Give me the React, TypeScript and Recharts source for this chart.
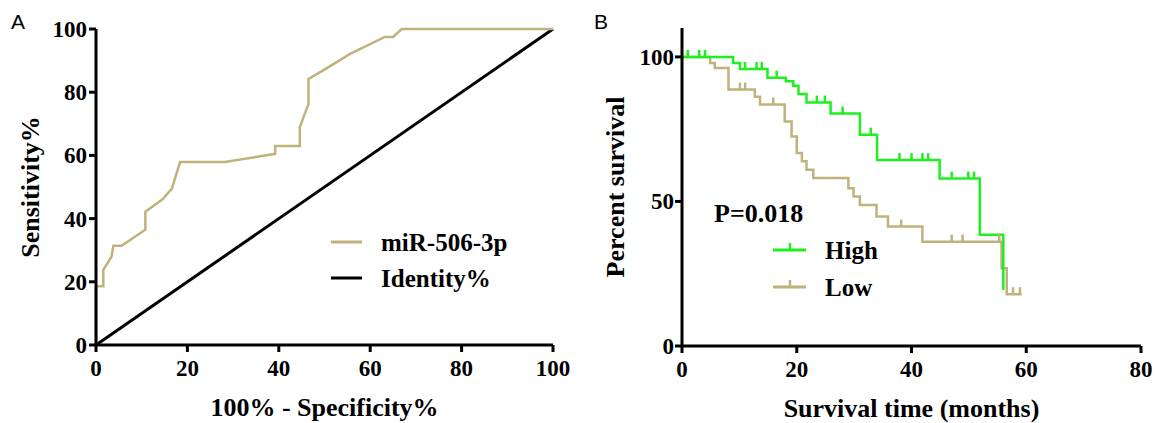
import { ComposedChart, LineChart, Line, Scatter, XAxis, YAxis } from "recharts";

const SERIF = '"Liberation Serif", "Times New Roman", serif';
const SANS = '"Liberation Sans", Arial, sans-serif';
const TAN = "#c0b27c";
const GREEN = "#1ef01e";

// Panel A: ROC curve of miR-506-3p
const rocFpr = [0, 0, 1.6, 1.6, 3.4, 3.8, 5.6, 10.8, 10.8, 14.5, 16.6, 18.4, 28.2, 39.2, 39.2, 44.6, 44.6, 46.5, 46.5, 49.7, 55.6, 63.2, 65, 66.9, 100];
const rocTpr = [0, 18.6, 18.6, 23.8, 28, 31.4, 31.4, 36.5, 42.2, 46, 49.5, 57.9, 57.9, 60.5, 63, 63, 69, 76.3, 84.2, 86.9, 92.1, 97.5, 97.5, 100, 100];
const identityX = [0, 100];
const identityY = [0, 100];
const rocTicks = [0, 20, 40, 60, 80, 100];

// Panel B: Kaplan-Meier survival, high vs low expression
const highT = [0, 8.9, 10.1, 14.9, 18.1, 19.4, 20.3, 21.7, 25.9, 31.0, 34.0, 44.9, 51.9, 56.0];
const highS = [100, 97.9, 95.8, 92.8, 91.6, 90.0, 87.2, 84.2, 80.4, 73.1, 64.3, 57.9, 38.5, 19.4];
const highCensorT = [1, 3, 4, 11, 13, 13.9, 16.5, 23.5, 24.9, 28, 32.9, 37.9, 40, 41.9, 42.9, 47, 49.9, 50.9];
const highCensorS = [100, 100, 100, 95.8, 95.8, 95.8, 92.8, 84.2, 84.2, 80.4, 73.1, 64.3, 64.3, 64.3, 64.3, 57.9, 57.9, 57.9];

const lowT = [0, 4.9, 5.7, 8.1, 12.7, 13.6, 17.9, 19.1, 20.0, 20.9, 21.7, 22.9, 29.0, 29.9, 31.0, 33.9, 35.9, 41.9, 55.7, 56.6, 59.2];
const lowS = [100, 97.9, 96.2, 88.7, 86.2, 83.5, 77.7, 72.5, 66.8, 63.9, 61.0, 58.1, 54.6, 51.7, 48.8, 44.8, 41.3, 36.1, 26.9, 17.9, 17.9];
const lowCensorT = [10.1, 11, 15.9, 38.2, 47, 48.9, 55.3, 57.7, 58.9];
const lowCensorS = [88.7, 88.7, 83.5, 41.3, 36.1, 36.1, 36.1, 17.9, 17.9];

const survXTicks = [0, 20, 40, 60, 80];
const survYTicks = [0, 50, 100];

const zip = (xs: number[], ys: number[], kx: string, ky: string) =>
  xs.map((v, i) => ({ [kx]: v, [ky]: ys[i] }));

const rocData = zip(rocFpr, rocTpr, "x", "y");
const identityData = zip(identityX, identityY, "x", "y");
const highData = zip(highT, highS, "t", "s");
const lowData = zip(lowT, lowS, "t", "s");
const highCensor = zip(highCensorT, highCensorS, "t", "s");
const lowCensor = zip(lowCensorT, lowCensorS, "t", "s");

const titleStyle = { fontFamily: SERIF, fontWeight: 700, fontSize: 26, fill: "#000", textAnchor: "middle" as const };
const tickFont = { fontFamily: SERIF, fontWeight: 700, fontSize: 23, fill: "#000" };
const axisStroke = { stroke: "#000", strokeWidth: 3 };

// bold serif tick labels (inline style so nothing overrides it)
const xTick = (props: any) => (
  <text x={props.x} y={props.y} dy={16} textAnchor="middle" style={tickFont}>
    {props.payload.value}
  </text>
);
const yTick = (props: any) => (
  <text x={props.x} y={props.y} dy={8} textAnchor="end" style={tickFont}>
    {props.payload.value}
  </text>
);

const censorMark = (color: string) => (props: any) => (
  <line x1={props.cx} x2={props.cx} y1={props.cy} y2={props.cy - 7} stroke={color} strokeWidth={2.5} />
);

const legendText = { fontFamily: SERIF, fontWeight: 700, fontSize: 25, fill: "#000" };

export default function App() {
  return (
    <div style={{ position: "absolute", left: 0, top: 0, width: 1158, height: 423, background: "#fff" }}>
      {/* A: ROC */}
      <div style={{ position: "absolute", left: 0, top: 0 }}>
        <LineChart width={580} height={423} margin={{ top: 29, right: 27, bottom: 3, left: 0 }}>
          <XAxis
            type="number"
            dataKey="x"
            domain={[0, 100]}
            ticks={rocTicks}
            interval={0}
            height={75}
            tickSize={7}
            tickMargin={8}
            axisLine={axisStroke}
            tickLine={axisStroke}
            tick={xTick}
            label={{ value: "100% - Specificity%", position: "insideBottom", offset: 4, style: titleStyle }}
          />
          <YAxis
            type="number"
            domain={[0, 100]}
            ticks={rocTicks}
            interval={0}
            width={96}
            tickSize={7}
            tickMargin={2}
            axisLine={axisStroke}
            tickLine={axisStroke}
            tick={yTick}
            label={{ value: "Sensitivity%", angle: -90, position: "insideLeft", offset: 30, style: titleStyle }}
          />
          <Line data={identityData} dataKey="y" type="linear" stroke="#000" strokeWidth={3} dot={false} activeDot={false} isAnimationActive={false} />
          <Line data={rocData} dataKey="y" type="linear" stroke={TAN} strokeWidth={2.5} dot={false} activeDot={false} isAnimationActive={false} />
        </LineChart>
      </div>

      {/* B: survival */}
      <div style={{ position: "absolute", left: 590, top: 0 }}>
        <ComposedChart width={568} height={423} margin={{ top: 28, right: 17, bottom: 2, left: 0 }}>
          <XAxis
            type="number"
            dataKey="t"
            domain={[0, 80]}
            ticks={survXTicks}
            interval={0}
            height={75}
            tickSize={7}
            tickMargin={8}
            axisLine={axisStroke}
            tickLine={axisStroke}
            tick={xTick}
            label={{ value: "Survival time (months)", position: "insideBottom", offset: 4, style: titleStyle }}
          />
          <YAxis
            type="number"
            domain={[0, 110]}
            ticks={survYTicks}
            interval={0}
            width={92}
            tickSize={7}
            tickMargin={1}
            axisLine={axisStroke}
            tickLine={axisStroke}
            tick={yTick}
            label={{ value: "Percent survival", angle: -90, position: "insideLeft", offset: 25, style: titleStyle }}
          />
          <Line data={lowData} dataKey="s" type="stepAfter" stroke={TAN} strokeWidth={2.5} dot={false} activeDot={false} isAnimationActive={false} />
          <Line data={highData} dataKey="s" type="stepAfter" stroke={GREEN} strokeWidth={2.5} dot={false} activeDot={false} isAnimationActive={false} />
          <Scatter data={lowCensor} dataKey="s" shape={censorMark(TAN)} isAnimationActive={false} />
          <Scatter data={highCensor} dataKey="s" shape={censorMark(GREEN)} isAnimationActive={false} />
        </ComposedChart>
      </div>

      {/* panel letters, legends, p value */}
      <svg width={1158} height={423} style={{ position: "absolute", left: 0, top: 0, pointerEvents: "none" }}>
        <text x={11} y={29} style={{ fontFamily: SANS, fontSize: 21, fill: "#000" }}>A</text>
        <text x={594} y={29} style={{ fontFamily: SANS, fontSize: 21, fill: "#000" }}>B</text>

        <line x1={331} x2={362} y1={242} y2={242} stroke={TAN} strokeWidth={3} />
        <text x={381} y={242} dominantBaseline="central" style={legendText}>miR-506-3p</text>
        <line x1={331} x2={362} y1={278} y2={278} stroke="#000" strokeWidth={3} />
        <text x={381} y={278} dominantBaseline="central" style={legendText}>Identity%</text>

        <text x={714} y={222} style={{ ...legendText, fontSize: 26 }}>P=0.018</text>
        <line x1={773} x2={806} y1={250} y2={250} stroke={GREEN} strokeWidth={3} />
        <line x1={790} x2={790} y1={250} y2={243} stroke={GREEN} strokeWidth={2.5} />
        <text x={825} y={250} dominantBaseline="central" style={legendText}>High</text>
        <line x1={773} x2={806} y1={287} y2={287} stroke={TAN} strokeWidth={3} />
        <line x1={790} x2={790} y1={287} y2={280} stroke={TAN} strokeWidth={2.5} />
        <text x={825} y={287} dominantBaseline="central" style={legendText}>Low</text>
      </svg>
    </div>
  );
}
